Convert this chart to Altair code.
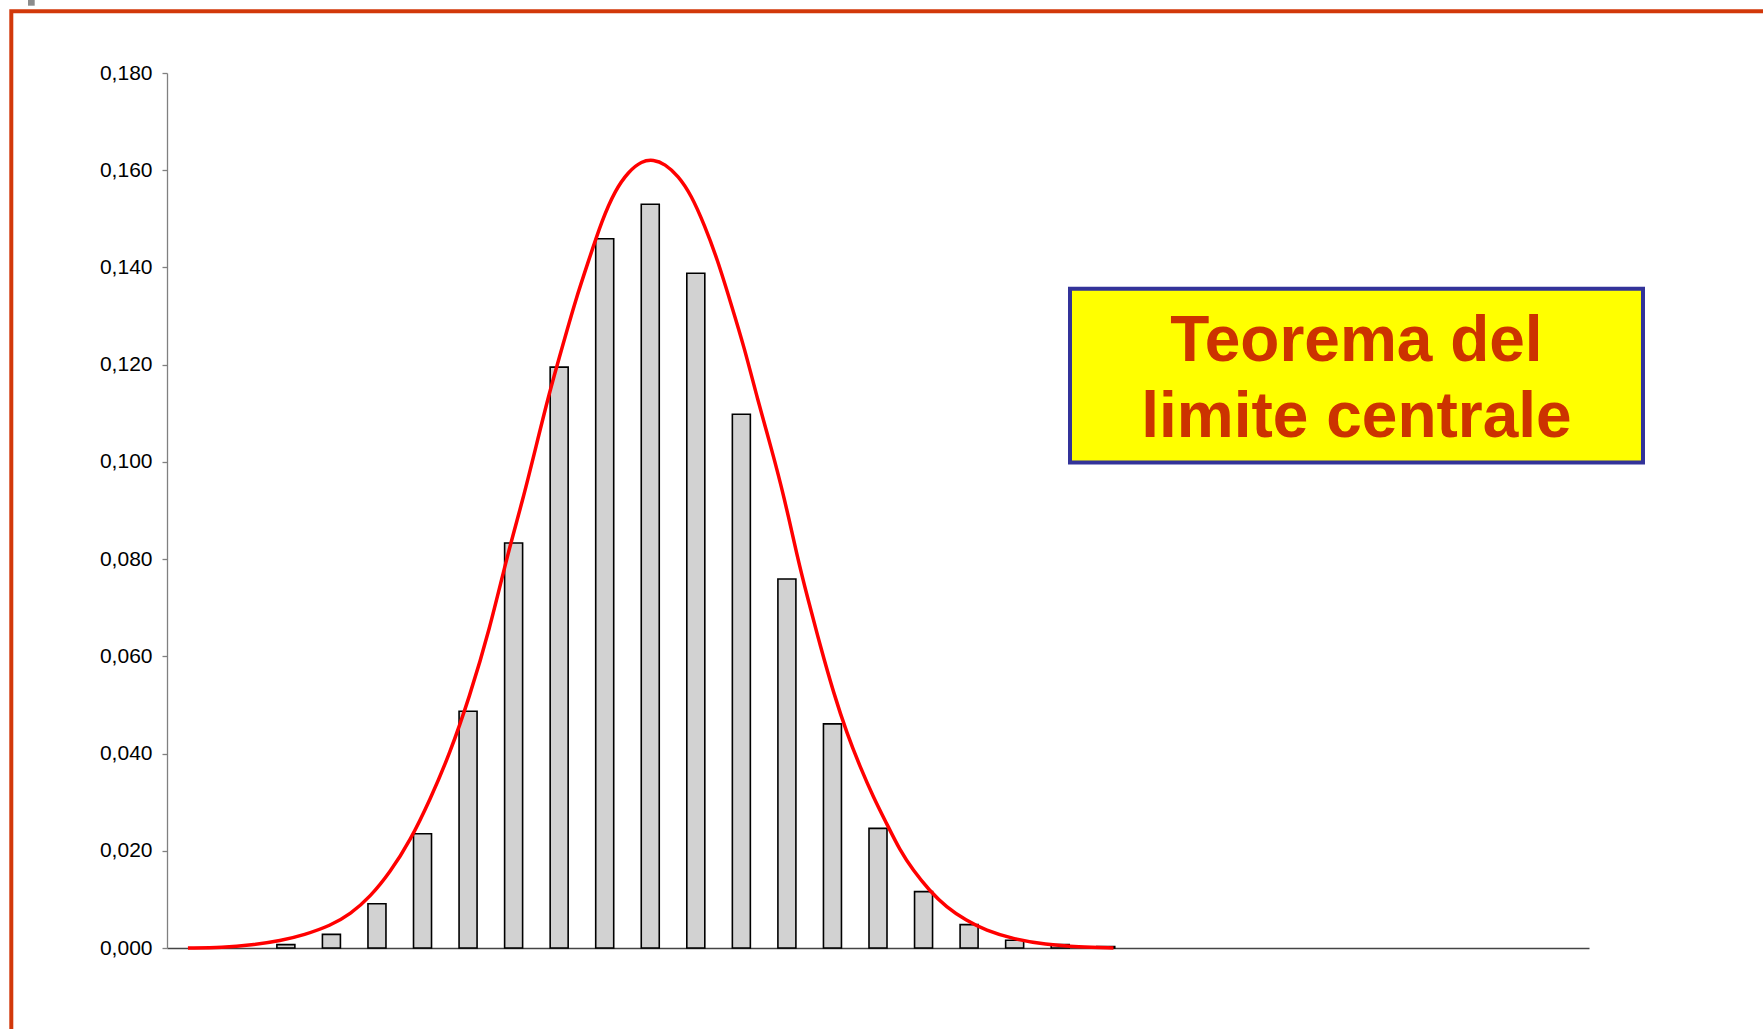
import altair as alt
import pandas as pd

# Category slots along the horizontal axis (31 slots, bars occupy slots 2..20)
bar_pos = list(range(2, 21))
bar_freq = [0.0007, 0.0028, 0.0091, 0.0235, 0.0487, 0.0833, 0.1195, 0.1459, 0.1530,
            0.1388, 0.1098, 0.0759, 0.0461, 0.0246, 0.0116, 0.0048, 0.0016, 0.0007, 0.0003]

# Normal approximation curve, sampled along the same horizontal scale
curve_x = [-0.15, 0.62, 1.24, 1.89, 2.40, 2.98, 3.42, 3.85, 4.29, 4.73, 5.16, 5.60, 6.03,
           6.47, 6.87, 7.20, 7.49, 7.78, 8.07, 8.36, 8.65, 8.94, 9.23, 9.52, 9.81, 10.07,
           10.32, 10.61, 10.90, 11.19, 11.48, 11.77, 12.06, 12.36, 12.65, 12.94, 13.23,
           13.45, 13.74, 14.03, 14.32, 14.61, 14.90, 15.19, 15.48, 15.77, 16.13, 16.50,
           16.93, 17.37, 17.95, 18.68, 19.40, 20.17]
curve_y = [0.0, 0.0001, 0.0006, 0.0015, 0.0027, 0.0046, 0.0070, 0.0105, 0.0156, 0.0221,
           0.0304, 0.0400, 0.0516, 0.0654, 0.0811, 0.0921, 0.1031, 0.1141, 0.1237, 0.1333,
           0.1415, 0.1497, 0.1559, 0.1597, 0.1619, 0.1622, 0.1613, 0.1589, 0.1549, 0.1487,
           0.1415, 0.1326, 0.1237, 0.1127, 0.1031, 0.0928, 0.0804, 0.0722, 0.0619, 0.0523,
           0.0441, 0.0372, 0.0310, 0.0256, 0.0201, 0.0160, 0.0118, 0.0084, 0.0057, 0.0036,
           0.0019, 0.0007, 0.0002, 0.0]

y_ticks = [0.0, 0.02, 0.04, 0.06, 0.08, 0.10, 0.12, 0.14, 0.16, 0.18]
title_lines = ["Teorema del", "limite centrale"]

bars_df = pd.DataFrame({"pos": bar_pos, "freq": bar_freq})
curve_df = pd.DataFrame({"pos": curve_x, "freq": curve_y})
one = alt.Data(values=[{"k": 1}])

W, H = 1422, 875
x_scale = alt.Scale(domain=[-0.5, 30.5], nice=False, zero=False)
y_scale = alt.Scale(domain=[0, 0.18], nice=False)

x_axis = alt.Axis(labels=False, ticks=False, grid=False, title=None,
                  domainColor="#444444", domainWidth=1.5)
y_axis = alt.Axis(values=y_ticks, grid=False, title=None,
                  labelExpr="replace(format(datum.value, '.3f'), '.', ',')",
                  labelFont="Liberation Sans", labelFontSize=21, labelColor="#000000",
                  labelPadding=10, tickSize=5, tickColor="#808080", tickWidth=1.3,
                  domainColor="#808080", domainWidth=1.3)

# slide frame
frame = alt.Chart(one).mark_rect(filled=False, stroke="#D2380A", strokeWidth=4).encode(
    x=alt.value(-155.7), x2=alt.value(1700), y=alt.value(-61.7), y2=alt.value(1100)
)
corner = alt.Chart(one).mark_rect(fill="#8C8C8C").encode(
    x=alt.value(-139), x2=alt.value(-132.3), y=alt.value(-73), y2=alt.value(-67.3)
)

bars = alt.Chart(bars_df).mark_bar(size=18, fill="#D2D2D2", stroke="#000000",
                                   strokeWidth=1.6).encode(
    x=alt.X("pos:Q", scale=x_scale, axis=x_axis),
    y=alt.Y("freq:Q", scale=y_scale, axis=y_axis),
)

curve = alt.Chart(curve_df).mark_line(color="#FF0000", strokeWidth=3.5,
                                      interpolate="basis").encode(
    x=alt.X("pos:Q", scale=x_scale),
    y=alt.Y("freq:Q", scale=y_scale),
)

box = alt.Chart(one).mark_rect(fill="#FFFF00", stroke="#333399", strokeWidth=4).encode(
    x=alt.value(903), x2=alt.value(1476), y=alt.value(215.7), y2=alt.value(389.4)
)
label = alt.Chart(one).mark_text(
    text=title_lines, font="Liberation Sans", fontSize=64, fontWeight="bold",
    color="#CC3300", align="center", baseline="alphabetic", lineHeight=76.4
).encode(x=alt.value(1189.5), y=alt.value(288))

chart = alt.layer(frame, corner, bars, curve, box, label).properties(
    width=W, height=H,
    autosize=alt.AutoSizeParams(type="none"),
    padding={"left": 167, "top": 73, "right": 174, "bottom": 81},
    background="#FFFFFF",
).configure_view(stroke=None)

chart.save("out.html", embed_options={"renderer": "svg", "actions": False})
